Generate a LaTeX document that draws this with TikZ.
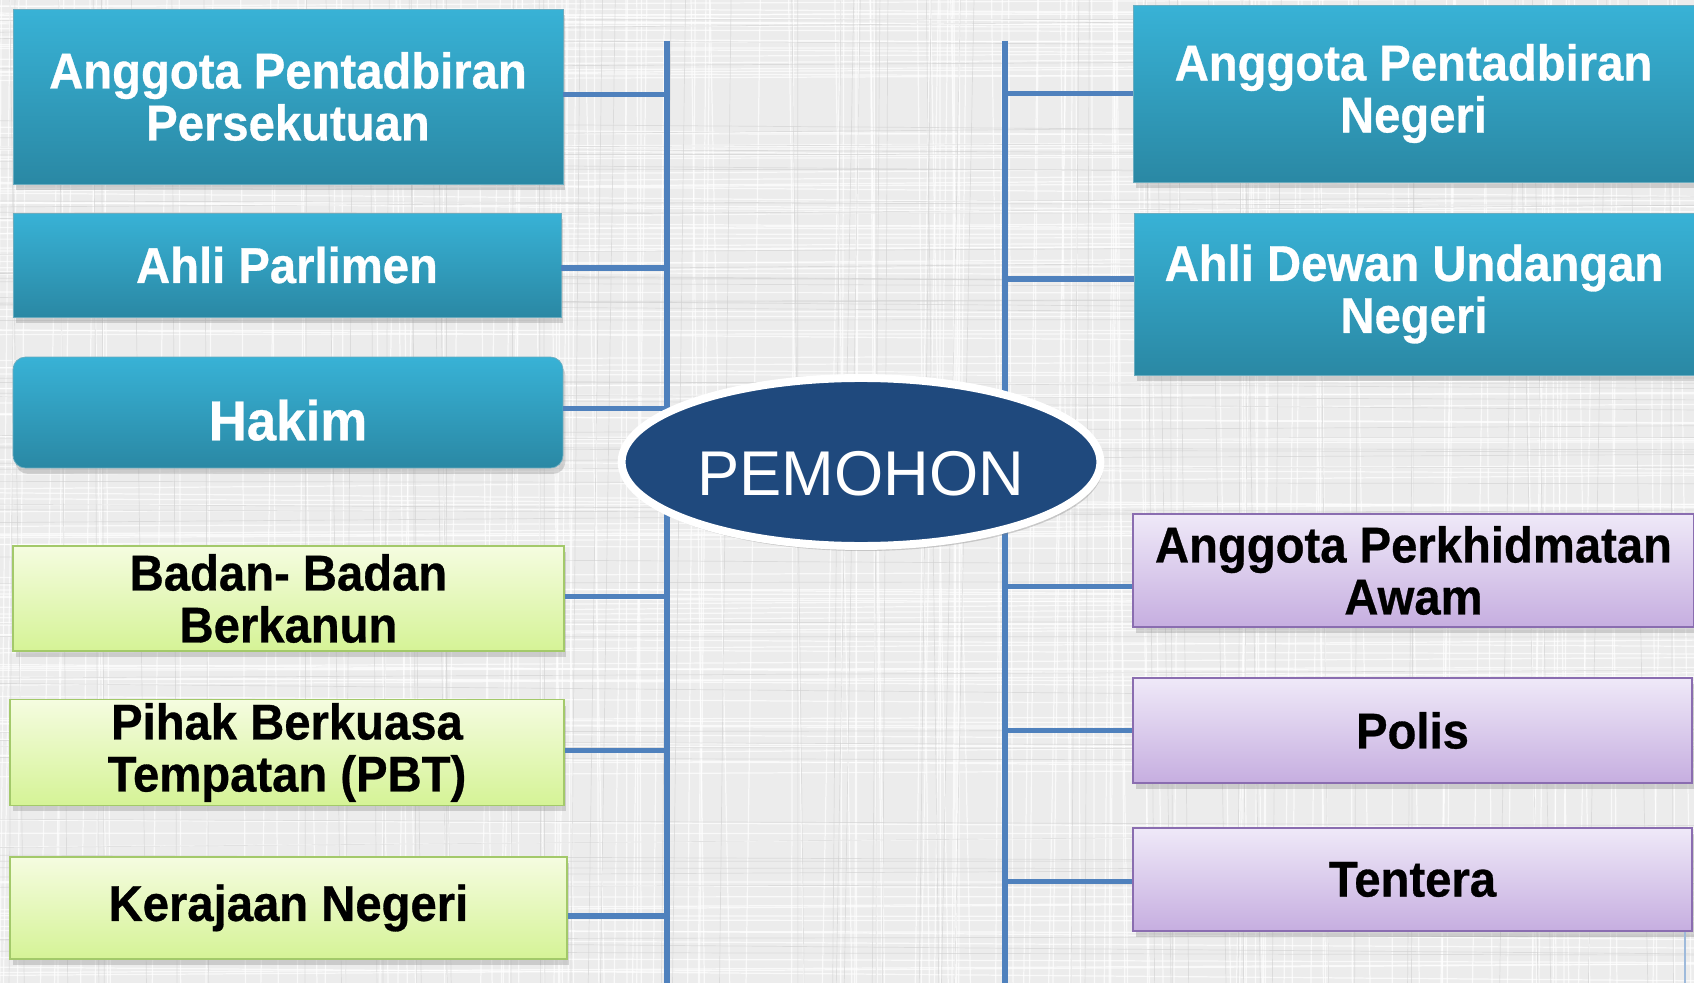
\documentclass[tikz,border=0pt]{standalone}
\usepackage{fontspec}
\setmainfont{Liberation Sans}
\newfontfamily\narrowfont[FakeStretch=0.94, BoldFeatures={FakeBold=0.6}]{Liberation Sans}
\usetikzlibrary{shapes.geometric,shadows,calc}
\definecolor{tealtop}{HTML}{38B2D6}
\definecolor{tealbot}{HTML}{2A88A4}
\definecolor{greentop}{HTML}{F5FCE0}
\definecolor{greenbot}{HTML}{D5F396}
\definecolor{greenline}{HTML}{A3C96A}
\definecolor{purptop}{HTML}{EFE9F8}
\definecolor{purpbot}{HTML}{C6AEE0}
\definecolor{purpline}{HTML}{8A6DB0}
\definecolor{spineblue}{HTML}{4F81BD}
\definecolor{ovalblue}{HTML}{1F497D}
\definecolor{paper}{HTML}{ECECEC}
\tikzset{
  box/.style={rectangle, align=center, inner sep=2pt,
    font={\narrowfont\bfseries\fontsize{28.6}{29.6}\selectfont},
    drop shadow={opacity=0.3, shadow xshift=0.05cm, shadow yshift=-0.12cm}},
  tealbox/.style={box, text=white, top color=tealtop, bottom color=tealbot, draw=tealbot!70},
  greenbox/.style={box, text=black, top color=greentop, bottom color=greenbot, draw=greenline, line width=1pt},
  purplebox/.style={box, text=black, top color=purptop, bottom color=purpbot, draw=purpline, line width=1pt},
  spineline/.style={draw=spineblue, line width=3.2pt},
  oval/.style={ellipse, fill=ovalblue, draw=white, line width=4.5pt, text=white,
    minimum width=9.24cm, minimum height=3.36cm, text height=38pt, text depth=0pt,
    font={\fontsize{36}{40}\selectfont},
    drop shadow={opacity=0.35, shadow xshift=0.05cm, shadow yshift=-0.1cm}}
}

\begin{document}
\begin{tikzpicture}[x=0.02cm, y=-0.02cm]
  \useasboundingbox (0,0) rectangle (1694,983);
  % paper background
  \fill[paper] (0,0) rectangle (1694,983);
  \pgfmathsetseed{11}
  \foreach \i in {1,...,140} {
    \pgfmathsetmacro\xx{rnd*1694}
    \draw[white, line width=0.7pt, opacity=0.7] (\xx,0) -- (\xx+rnd*40-20,983);
    \pgfmathsetmacro\yy{rnd*983}
    \draw[white, line width=0.7pt, opacity=0.7] (0,\yy) -- (1694,\yy+rnd*30-15);
  }
  \foreach \i in {1,...,60} {
    \pgfmathsetmacro\xx{rnd*1694}
    \draw[black!18, line width=0.4pt, opacity=0.6] (\xx,0) -- (\xx+rnd*40-20,983);
    \pgfmathsetmacro\yy{rnd*983}
    \draw[black!18, line width=0.4pt, opacity=0.6] (0,\yy) -- (1694,\yy+rnd*30-15);
  }

  % spines
  \coordinate (ltop) at (667,41);
  \coordinate (lbot) at (667,990);
  \coordinate (rtop) at (1005,41);
  \coordinate (rbot) at (1005,990);
  \draw[spineline] (ltop) -- (lbot);
  \draw[spineline] (rtop) -- (rbot);

  % left column
  \node[tealbox, minimum width=11cm, minimum height=3.5cm] (apf) at (288,96.5)
    {Anggota Pentadbiran\\Persekutuan};
  \node[tealbox, minimum width=10.96cm, minimum height=2.08cm] (ap) at (287,265)
    {Ahli Parlimen};
  \node[tealbox, rounded corners=0.25cm, minimum width=11cm, minimum height=2.22cm,
    text height=31.6pt, text depth=0pt,
    font={\narrowfont\bfseries\fontsize{32}{34}\selectfont}] (hakim) at (288,412.5)
    {Hakim};
  \node[greenbox, minimum width=11.02cm, minimum height=2.1cm] (bbb) at (288.5,598.5)
    {Badan- Badan\\Berkanun};
  \node[greenbox, minimum width=11.08cm, minimum height=2.1cm] (pbt) at (287,752.5)
    {Pihak Berkuasa\\Tempatan (PBT)};
  \node[greenbox, minimum width=11.14cm, minimum height=2.04cm] (kn) at (288.5,908)
    {Kerajaan Negeri};

  % right column
  \node[tealbox, minimum width=11.22cm, minimum height=3.54cm] (apn) at (1413.5,93.5)
    {Anggota Pentadbiran\\Negeri};
  \node[tealbox, minimum width=11.2cm, minimum height=3.24cm] (adun) at (1414,294)
    {Ahli Dewan Undangan\\Negeri};
  \node[purplebox, minimum width=11.22cm, minimum height=2.26cm] (apa) at (1413.5,570.5)
    {Anggota Perkhidmatan\\Awam};
  \node[purplebox, minimum width=11.18cm, minimum height=2.1cm] (polis) at (1412.5,730.5)
    {Polis};
  \node[purplebox, minimum width=11.18cm, minimum height=2.06cm] (tentera) at (1412.5,879.5)
    {Tentera};

  % connectors
  \foreach \n/\dy in {apf/2, ap/-3, hakim/4, bbb/2, pbt/2, kn/-8} {
    \path ([yshift=\dy*0.02cm]\n.east) coordinate (c);
    \draw[spineline] (c) -- (c -| ltop);
  }
  \foreach \n/\dy in {apn/0, adun/15, apa/-16, polis/0, tentera/-2} {
    \path ([yshift=\dy*0.02cm]\n.west) coordinate (c);
    \draw[spineline] (c) -- (c -| rtop);
  }
  \draw[spineblue!55, line width=1.5pt] (1685,0 |- tentera.south) -- (1685,983);

  % centre
  \node[oval] (pemohon) at (861,462) {PEMOHON};
\end{tikzpicture}
\end{document}
